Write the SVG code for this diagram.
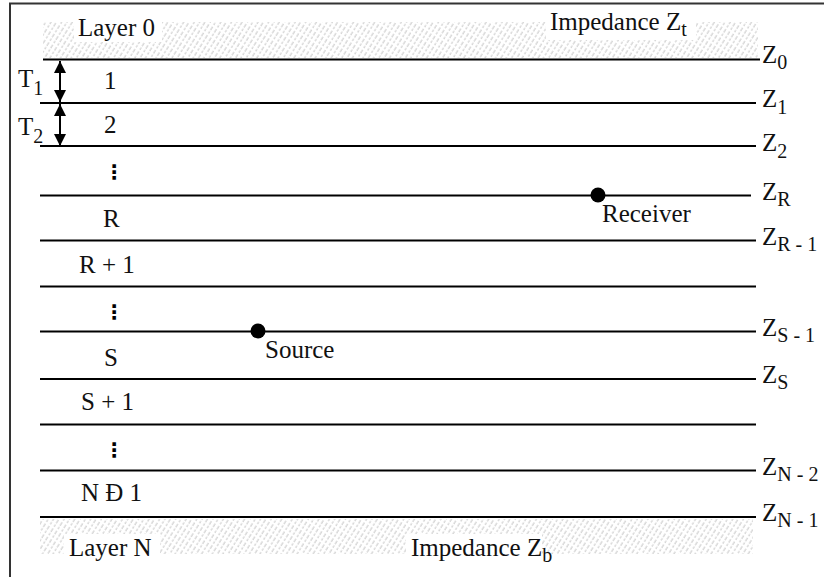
<svg xmlns="http://www.w3.org/2000/svg" width="824" height="577" viewBox="0 0 824 577">
<defs>
<pattern id="hatch" patternUnits="userSpaceOnUse" width="4.5" height="10" patternTransform="rotate(32)">
<line x1="1" y1="0" x2="1" y2="10" stroke="#9a9a9a" stroke-width="0.6" stroke-dasharray="4 1.5 2.5 2"/>
</pattern>
<marker id="ah" viewBox="0 0 10 10" refX="10" refY="5" markerWidth="13" markerHeight="12" orient="auto-start-reverse" markerUnits="userSpaceOnUse">
<path d="M0,0 L10,5 L0,10 z" fill="#000"/>
</marker>
</defs>
<style>
.t{font-family:"Liberation Serif","Times New Roman",serif;font-size:25px;fill:#111}
.s{font-size:20px}
.ln{stroke:#000;stroke-width:2;fill:none}
.frame{stroke:#333;stroke-width:2;fill:none}
.dots{font-family:"DejaVu Sans",sans-serif;font-size:20px;font-weight:bold;fill:#000}
.bg{fill:#fff}
</style>
<rect width="824" height="577" fill="#fff"/>
<g id="frame">
<path class="frame" d="M10,577 V3.5 H824"/>
</g>
<g id="hatching">
<rect x="43" y="22" width="715" height="36" fill="url(#hatch)"/>
<rect x="40" y="519" width="713" height="35" fill="url(#hatch)"/>
<rect class="bg" x="74" y="14" width="88" height="28"/>
<rect class="bg" x="546" y="8" width="150" height="32"/>
<rect class="bg" x="64" y="534" width="96" height="28"/>
<rect class="bg" x="406" y="534" width="136" height="36"/>
</g>
<g id="connectors">
<line class="ln" x1="43" y1="59.5" x2="760" y2="59.5" stroke-width="1.6"/>
<line class="ln" x1="40" y1="103" x2="756" y2="103"/>
<line class="ln" x1="40" y1="146" x2="756" y2="146"/>
<line class="ln" x1="40" y1="195.5" x2="751" y2="195.5"/>
<line class="ln" x1="40" y1="240.5" x2="756" y2="240.5"/>
<line class="ln" x1="40" y1="286.5" x2="756" y2="286.5"/>
<line class="ln" x1="40" y1="331.5" x2="756" y2="331.5"/>
<line class="ln" x1="40" y1="379" x2="756" y2="379"/>
<line class="ln" x1="40" y1="424.5" x2="756" y2="424.5"/>
<line class="ln" x1="40" y1="470.5" x2="756" y2="470.5"/>
<line class="ln" x1="40" y1="517" x2="756" y2="517"/>
<line class="ln" x1="60" y1="61" x2="60" y2="102" marker-start="url(#ah)" marker-end="url(#ah)"/>
<line class="ln" x1="60" y1="104" x2="60" y2="146" marker-start="url(#ah)" marker-end="url(#ah)"/>
</g>
<g id="layer0"><text class="t" x="78" y="36">Layer 0</text></g>
<g id="impedance-top"><text class="t" x="550" y="30">Impedance Z<tspan class="s" dy="6">t</tspan></text></g>
<g id="layer1"><text class="t" x="104" y="89">1</text><text class="t" x="18" y="87">T<tspan class="s" dy="8">1</tspan></text></g>
<g id="layer2"><text class="t" x="104" y="133">2</text><text class="t" x="18" y="135">T<tspan class="s" dy="8">2</tspan></text></g>
<g id="dots1"><text class="dots" x="104" y="179">⋮</text></g>
<g id="layerR"><text class="t" x="103" y="227">R</text></g>
<g id="layerR1"><text class="t" x="79" y="273">R + 1</text></g>
<g id="dots2"><text class="dots" x="104" y="319">⋮</text></g>
<g id="layerS"><text class="t" x="104" y="366">S</text></g>
<g id="layerS1"><text class="t" x="81" y="410">S + 1</text></g>
<g id="dots3"><text class="dots" x="104" y="457">⋮</text></g>
<g id="layerN1"><text class="t" x="81" y="501">N Ð 1</text></g>
<g id="layerN"><text class="t" x="69" y="556">Layer N</text></g>
<g id="impedance-bottom"><text class="t" x="411" y="556">Impedance Z<tspan class="s" dy="6">b</tspan></text></g>
<g id="receiver"><circle cx="598" cy="195" r="7.5" fill="#000"/><text class="t" x="602" y="222">Receiver</text></g>
<g id="source"><circle cx="258" cy="331" r="7.5" fill="#000"/><text class="t" x="265" y="358">Source</text></g>
<g id="zlabels">
<text class="t" x="762" y="63">Z<tspan class="s" dy="6">0</tspan></text>
<text class="t" x="762" y="107">Z<tspan class="s" dy="7">1</tspan></text>
<text class="t" x="762" y="151">Z<tspan class="s" dy="7">2</tspan></text>
<text class="t" x="762" y="200">Z<tspan class="s" dy="6">R</tspan></text>
<text class="t" x="762" y="245">Z<tspan class="s" dy="6">R - 1</tspan></text>
<text class="t" x="762" y="336">Z<tspan class="s" dy="6">S - 1</tspan></text>
<text class="t" x="762" y="383">Z<tspan class="s" dy="6">S</tspan></text>
<text class="t" x="762" y="475">Z<tspan class="s" dy="6">N - 2</tspan></text>
<text class="t" x="762" y="521">Z<tspan class="s" dy="6">N - 1</tspan></text>
</g>
</svg>
